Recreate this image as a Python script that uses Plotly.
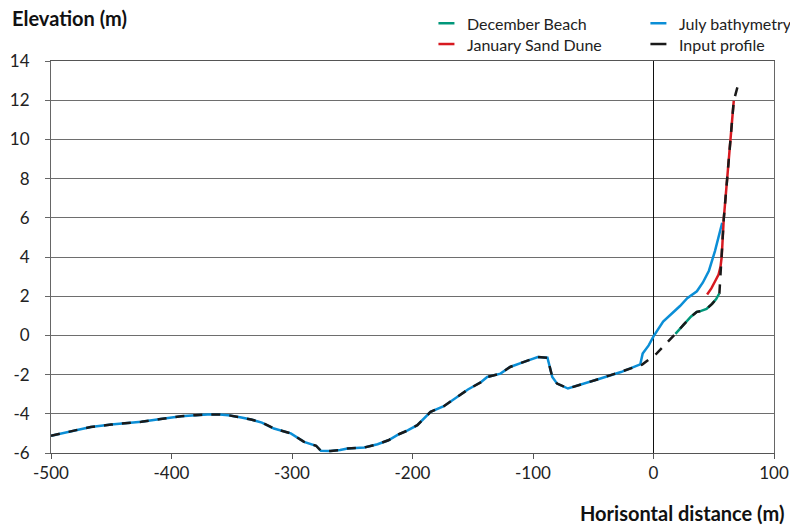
import plotly.graph_objects as go

# ---- profile data (horizontal distance in m, elevation in m) ----
july_x = [-500, -490, -480, -467, -450, -440, -425, -409, -392, -380, -370, -360,
          -353, -342, -334, -325, -315, -301, -290, -280, -276, -268, -260, -254,
          -240, -229, -220, -212, -204, -196, -189, -185, -174, -166, -154, -143,
          -138, -127, -119, -108, -96, -88, -84, -80, -71, -44, -27, -11, -9, -4,
          0, 8, 15, 22, 28, 36, 41, 46, 51, 57]
july_y = [-5.12, -4.98, -4.85, -4.67, -4.55, -4.50, -4.41, -4.27, -4.12, -4.07, -4.03, -4.03,
          -4.07, -4.19, -4.29, -4.45, -4.75, -5.0, -5.43, -5.63, -5.89, -5.90, -5.85, -5.77,
          -5.72, -5.55, -5.35, -5.06, -4.85, -4.58, -4.16, -3.9, -3.61, -3.27, -2.76, -2.38,
          -2.12, -1.95, -1.61, -1.36, -1.10, -1.14, -2.12, -2.46, -2.71, -2.2, -1.87, -1.48, -0.93, -0.51,
          -0.05, 0.7, 1.1, 1.5, 1.9, 2.25, 2.7, 3.3, 4.3, 5.75]

dec_x = [18.2, 25, 31, 34.8, 36, 39, 44, 48.6, 52, 54.7]
dec_y = [0.08, 0.55, 0.95, 1.14, 1.2, 1.24, 1.35, 1.61, 1.85, 2.15]

jan_x = [44.5, 48, 51, 54, 55.6, 56.6, 58.3, 61.1, 63.9, 65.5, 66.6]
jan_y = [2.09, 2.4, 2.75, 3.1, 3.5, 4.0, 5.94, 7.97, 9.92, 11.3, 11.96]

# input profile: bathymetry offshore, beach and dune onshore
input_x = july_x[:july_x.index(-11)] + [-9.4, 2.5, 10.8] + dec_x + [56, 56.6, 58.3, 61.1, 63.9, 65.5, 66.6, 70.7]
input_y = july_y[:july_x.index(-11)] + [-1.49, -0.93, -0.42] + dec_y + [3.4, 4.0, 5.94, 7.97, 9.92, 11.3, 11.96, 12.9]

x_ticks = [-500, -400, -300, -200, -100, 0, 100]
y_ticks = [-6, -4, -2, 0, 2, 4, 6, 8, 10, 12, 14]

GREEN = "#00977a"
RED = "#d71920"
BLUE = "#0b8ed6"
BLACK = "#1a1a1a"
FONT = "Lato"

W, H = 790, 526
ML, MR, MT, MB = 50.5, 16.4, 60.5, 73


def px_x(px):
    return (px - ML) / (W - ML - MR)


def px_y(py):
    return (H - MB - py) / (H - MB - MT)


fig = go.Figure()
fig.add_trace(go.Scatter(x=july_x, y=july_y, mode="lines", name="July bathymetry",
                         line=dict(color=BLUE, width=2.5)))
fig.add_trace(go.Scatter(x=dec_x, y=dec_y, mode="lines", name="December Beach",
                         line=dict(color=GREEN, width=2.5)))
fig.add_trace(go.Scatter(x=jan_x, y=jan_y, mode="lines", name="January Sand Dune",
                         line=dict(color=RED, width=2.5)))
fig.add_trace(go.Scatter(x=input_x, y=input_y, mode="lines", name="Input profile",
                         line=dict(color=BLACK, width=2.5, dash="9px,9px")))

# legend drawn as short line samples with text, two columns
legend_items = [
    ("December Beach", GREEN, 438, 22.7),
    ("January Sand Dune", RED, 438, 43.5),
    ("July bathymetry", BLUE, 650, 22.7),
    ("Input profile", BLACK, 650, 43.5),
]
shapes = []
annotations = []
for label, color, lx, ly in legend_items:
    shapes.append(dict(type="line", xref="paper", yref="paper",
                       x0=px_x(lx), x1=px_x(lx + 16), y0=px_y(ly), y1=px_y(ly),
                       line=dict(color=color, width=2.5)))
    annotations.append(dict(text=label, xref="paper", yref="paper",
                            x=px_x(lx + 27), y=px_y(ly), xanchor="left", yanchor="middle",
                            showarrow=False, font=dict(family=FONT, size=16, color="#222")))

annotations.append(dict(text="<b>Elevation (m)</b>", xref="paper", yref="paper",
                        x=px_x(9), y=px_y(17), xanchor="left", yanchor="middle",
                        showarrow=False, font=dict(family=FONT, size=20, color="#111")))
annotations.append(dict(text="<b>Horisontal distance (m)</b>", xref="paper", yref="paper",
                        x=px_x(786), y=px_y(513), xanchor="right", yanchor="middle",
                        showarrow=False, font=dict(family=FONT, size=20, color="#111")))

fig.update_layout(
    width=W, height=H,
    margin=dict(l=ML, r=MR, t=MT, b=MB, autoexpand=False),
    paper_bgcolor="white", plot_bgcolor="white",
    showlegend=False,
    shapes=shapes,
    annotations=annotations,
    font=dict(family=FONT, size=17, color="#222"),
)
fig.update_xaxes(
    range=[-500, 100], tickvals=x_ticks, ticktext=[str(v) for v in x_ticks],
    showgrid=False, zeroline=True, zerolinecolor="#111", zerolinewidth=1,
    showline=True, linecolor="#555", linewidth=1, mirror=True, automargin=False,
    ticks="outside", ticklen=5, tickcolor="#555",
)
fig.update_yaxes(
    range=[-6, 14], tickvals=y_ticks, ticktext=[str(v) for v in y_ticks],
    showgrid=True, gridcolor="#6e6e6e", gridwidth=1, zeroline=False,
    showline=True, linecolor="#666", linewidth=1, mirror=True, automargin=False,
    ticks="outside", ticklen=5, tickcolor="#666", ticklabelstandoff=12,
)

fig.write_html("out.html")
